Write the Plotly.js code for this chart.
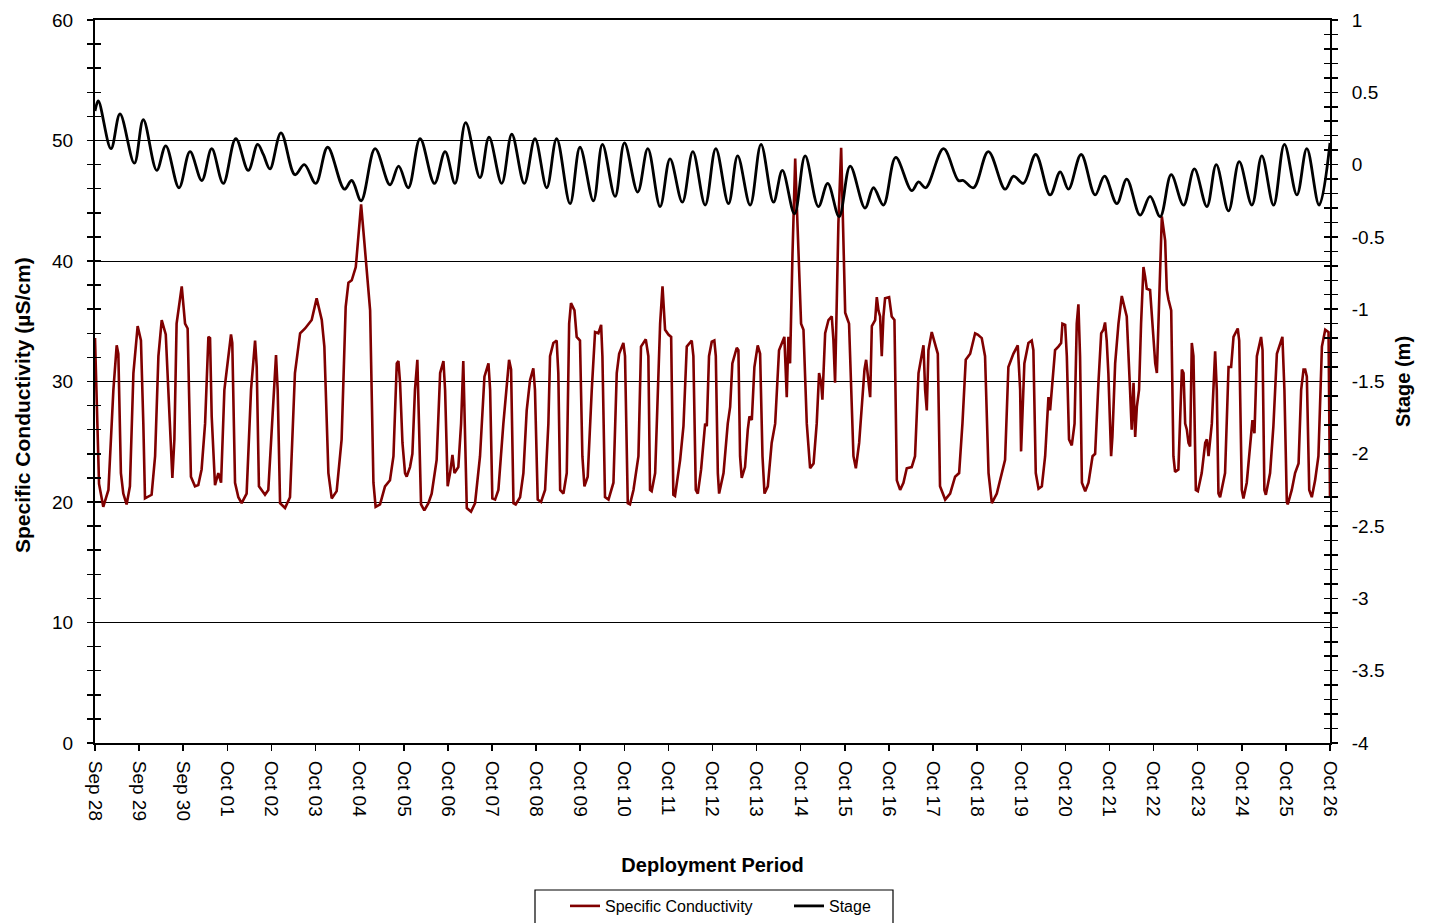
<!DOCTYPE html>
<html>
<head>
<meta charset="utf-8">
<script src="https://cdn.plot.ly/plotly-3.0.1.min.js"></script>
<style>html,body{margin:0;padding:0;background:#fff;}#chart{width:1434px;height:923px;}</style>
</head>
<body>
<div id="chart"></div>
<script>
// Hours elapsed since Sep 28 00:00 and stage (m)
const stageHours = [0,1.8,8.7,13.6,21.4,26.3,33.6,38.5,45.7,51.7,58.1,63.5,69.8,76.6,83.4,88.5,91.6,95.2,101.2,108.8,113.9,120.1,126.6,135.7,139.7,144.8,152.4,160.5,165.2,170.5,176.9,184.7,190.5,195.9,201.7,209.5,214.4,221.3,226.8,233.6,239.4,245.8,251.2,258.5,263.9,271.2,276.1,283.0,288.1,295.3,300.8,307.5,312.9,319.6,325.3,332.0,337.8,344.7,349.7,356.5,362.4,369.2,374.0,380.6,386.4,393.6,398.7,404.9,410.9,419.0,423.6,429.0,435.7,444.4,448.1,452.0,461.7,469.8,472.5,478.0,486.1,495.2,499.8,505.2,511.9,519.7,525.2,529.7,536.6,544.2,549.3,556.0,561.4,568.7,574.1,579.6,585.6,592.3,598.2,605.0,610.1,616.8,622.6,629.5,634.9,641.3,647.2,654.0,659.4,666.1,672.0];
const stageValues = [0.37,0.44,0.11,0.35,0.01,0.31,-0.04,0.13,-0.16,0.09,-0.11,0.11,-0.13,0.18,-0.04,0.14,0.07,-0.03,0.22,-0.07,0.00,-0.13,0.12,-0.17,-0.11,-0.25,0.11,-0.14,-0.01,-0.16,0.18,-0.13,0.09,-0.13,0.29,-0.09,0.19,-0.13,0.21,-0.13,0.18,-0.16,0.18,-0.27,0.12,-0.25,0.14,-0.22,0.15,-0.19,0.11,-0.29,0.04,-0.26,0.09,-0.28,0.11,-0.27,0.06,-0.28,0.14,-0.26,-0.04,-0.34,0.06,-0.29,-0.13,-0.36,-0.01,-0.30,-0.16,-0.28,0.05,-0.18,-0.12,-0.16,0.11,-0.11,-0.11,-0.16,0.09,-0.17,-0.08,-0.13,0.07,-0.21,-0.05,-0.17,0.07,-0.21,-0.08,-0.27,-0.10,-0.35,-0.22,-0.36,-0.07,-0.28,-0.03,-0.29,0.00,-0.32,0.02,-0.28,0.06,-0.28,0.14,-0.21,0.11,-0.28,0.15];

// Hours elapsed since Sep 28 00:00 and specific conductivity (uS/cm)
const condHours = [0,2.2,4.5,7.3,10.0,11.8,12.7,14.1,15.4,17.2,19.0,20.9,23.2,25.0,26.3,27.2,30.8,32.7,34.5,36.3,38.5,40.3,42.1,43.2,44.4,47.2,49.0,50.4,52.2,54.4,56.2,58.0,59.9,61.7,62.6,63.5,65.3,67.1,68.6,70.4,74.0,74.7,76.2,78.0,79.8,82.5,84.9,87.1,88.0,89.2,92.5,94.3,97.0,98.5,99.4,100.7,103.4,106.1,108.8,111.6,114.3,117.9,120.6,123.4,124.8,127.0,128.8,131.5,134.2,136.4,137.9,139.7,141.9,144.8,146.6,149.7,151.5,152.7,155.1,157.8,160.5,162.4,164.2,165.1,166.0,167.3,168.7,169.6,171.4,172.7,174.1,175.4,176.3,177.4,179.2,181.4,183.2,185.9,187.8,189.6,190.5,191.9,193.2,194.5,195.6,197.7,199.2,200.4,202.3,204.6,206.8,209.5,211.9,214.1,215.0,216.2,217.7,219.5,222.2,225.3,226.4,227.7,228.9,231.3,233.1,234.9,236.7,238.5,239.4,240.9,242.7,244.9,246.7,247.6,249.4,251.2,252.1,253.1,254.9,256.7,258.0,259.0,260.9,262.1,263.9,265.2,266.3,268.1,270.3,272.1,273.9,275.4,276.1,277.5,279.4,282.1,283.9,285.2,287.5,288.4,289.9,291.1,293.0,295.7,297.1,299.7,301.1,302.0,302.9,304.8,307.5,308.8,310.2,312.0,313.5,314.7,315.6,318.4,320.2,322.0,324.7,325.6,326.9,328.0,329.8,332.0,332.9,334.1,335.6,337.0,337.8,338.9,339.6,342.0,344.3,345.6,346.8,349.2,350.1,351.0,351.9,353.7,355.2,356.1,357.4,358.8,360.6,361.9,363.2,364.3,366.1,368.2,370.1,372.2,375.1,376.4,377.3,378.2,379.5,381.0,381.9,383.1,384.2,385.5,387.3,389.1,391.0,392.7,394.0,395.1,395.8,397.3,399.1,400.9,401.8,402.7,403.6,404.5,406.0,407.2,408.2,409.6,410.3,412.7,414.0,415.8,417.2,418.7,419.6,420.8,421.8,422.7,424.5,425.4,426.3,427.2,428.1,429.0,429.9,432.1,433.5,435.0,436.3,438.1,439.9,441.7,444.4,446.2,448.1,450.8,451.7,452.6,453.5,455.3,457.1,458.6,459.8,462.6,465.3,468.0,470.2,472.0,473.8,476.2,478.9,480.3,482.5,484.3,486.2,488.0,490.7,493.0,495.2,497.0,499.7,502.1,503.4,503.9,504.7,505.7,507.9,509.7,510.6,511.9,513.4,515.2,517.0,518.8,519.7,520.6,522.4,524.2,525.7,526.4,527.9,528.8,530.0,531.5,533.0,534.2,535.1,536.0,537.0,538.8,540.6,542.8,544.2,546.0,547.5,548.7,549.6,550.5,551.4,552.9,553.6,555.1,556.9,558.7,560.5,561.4,563.2,564.1,565.1,566.0,566.9,568.1,569.2,570.5,571.4,572.3,574.1,575.4,576.9,577.8,578.7,579.6,580.5,582.3,583.2,584.1,585.6,586.8,587.7,589.5,590.5,591.4,592.3,593.2,594.1,595.0,595.9,596.8,597.7,598.3,599.0,600.1,602.2,604.1,605.0,605.9,607.7,609.5,610.4,611.3,612.2,614.9,616.8,618.2,619.5,621.8,622.6,624.0,624.9,626.7,628.5,629.8,630.9,632.2,634.5,635.3,636.3,637.1,639.4,641.2,643.1,646.1,647.2,648.5,649.0,651.2,653.0,654.9,656.3,657.6,658.5,659.4,660.7,662.1,663.9,665.7,667.6,669.4,671.2,672.0];
const condValues = [33.6,21.5,19.6,21.0,29.3,33.0,32.3,22.4,20.7,19.8,21.3,30.7,34.6,33.4,26.5,20.3,20.6,23.8,32.1,35.1,33.9,27.9,22.0,25.2,34.8,37.9,34.8,34.4,22.1,21.3,21.4,22.7,26.5,33.7,33.6,27.1,21.4,22.4,21.6,29.3,33.9,33.2,21.6,20.4,19.9,20.7,29.3,33.4,31.2,21.3,20.6,21.0,27.9,32.2,29.3,19.9,19.5,20.4,30.7,34.0,34.4,35.1,36.9,35.1,32.9,22.4,20.3,20.9,25.2,36.2,38.2,38.4,39.5,44.7,41.5,35.9,21.6,19.6,19.8,21.3,21.8,23.8,31.5,31.7,29.9,24.9,22.4,22.1,22.9,24.0,29.3,31.8,26.5,19.8,19.3,19.9,20.7,23.5,30.7,31.7,29.3,21.3,22.4,23.9,22.4,22.9,26.5,31.7,19.5,19.2,19.9,23.8,30.4,31.5,29.3,20.3,20.2,21.0,26.5,31.8,31.0,19.9,19.8,20.4,22.4,27.6,30.1,31.1,29.3,20.2,20.0,21.0,26.5,32.1,33.2,33.4,30.7,21.0,20.7,22.4,34.8,36.5,35.9,33.7,33.4,23.8,21.3,22.1,29.3,34.1,34.0,34.7,32.1,20.4,20.2,21.6,30.7,32.3,33.2,32.1,19.9,19.8,21.0,23.8,32.9,33.5,32.1,21.0,20.9,22.4,34.8,37.9,34.3,33.9,33.7,20.6,20.5,23.5,26.3,32.9,33.4,32.1,21.0,20.7,22.7,26.5,26.3,32.1,33.3,33.4,32.1,22.4,20.7,22.4,26.5,27.9,31.5,32.8,32.6,23.8,22.0,22.9,26.0,27.1,26.8,31.2,33.0,32.3,23.8,20.7,21.3,24.9,26.5,32.6,33.7,28.7,33.7,31.5,40.4,48.5,44.5,39.0,34.8,34.3,26.5,22.8,23.2,26.5,30.7,29.9,28.5,34.0,35.1,35.4,33.4,29.9,37.6,43.1,49.4,43.1,35.7,35.1,34.8,23.8,22.8,24.9,27.6,31.0,31.8,29.9,28.7,34.6,35.1,37.0,35.9,35.4,32.1,35.4,36.9,37.0,35.4,35.1,21.8,21.0,21.6,22.8,22.9,23.8,30.7,33.0,29.3,27.6,32.6,34.1,33.2,32.3,21.3,20.2,20.7,22.1,22.4,26.5,31.8,32.3,34.0,33.9,33.6,32.1,22.4,19.9,20.7,22.1,23.5,31.2,32.3,33.0,29.3,24.2,27.9,31.5,33.2,33.4,32.6,22.4,21.1,21.3,23.8,28.7,27.6,29.3,32.6,32.9,33.2,34.8,34.7,32.1,25.2,24.7,26.5,34.8,36.4,32.1,21.6,20.9,21.6,23.8,24.0,29.9,34.0,34.3,34.9,33.4,30.7,23.8,25.4,31.5,34.8,37.1,36.1,35.4,29.3,26.0,29.9,25.4,27.9,29.3,34.8,39.5,38.7,37.7,37.6,34.8,31.5,30.7,34.8,40.4,43.7,41.7,37.6,36.8,35.9,23.8,22.5,22.7,27.9,31.0,30.7,26.5,26.0,24.9,24.6,33.2,32.1,26.5,21.0,20.9,22.4,24.9,25.2,23.8,26.5,32.5,29.3,20.7,20.4,22.4,31.2,31.2,33.7,34.4,33.4,21.0,20.3,21.6,24.3,26.8,25.7,32.1,33.7,32.6,21.0,20.6,22.4,26.3,32.3,33.7,29.3,20.0,19.8,21.0,22.4,23.2,29.3,31.0,31.0,30.4,21.0,20.4,21.8,23.8,32.9,34.3,34.1,20.4];

// Right axis tick labels
const stageTickVals = [-4,-3.5,-3,-2.5,-2,-1.5,-1,-0.5,0,0.5,1];
const stageTickText = ['-4','-3.5','-3','-2.5','-2','-1.5','-1','-0.5','0','0.5','1'];

const startDate = Date.UTC(2010, 8, 28);
function hoursToDate(h) {
  return new Date(startDate + Math.round(h * 3600000)).toISOString().slice(0, 19).replace('T', ' ');
}
const condX = condHours.map(hoursToDate);
const stageX = stageHours.map(hoursToDate);
const xStart = hoursToDate(0), xEnd = hoursToDate(672);

const FONT = 'Liberation Sans, Arial, sans-serif';

const traces = [
  {x: condX, y: condValues, type: 'scatter', mode: 'lines', name: 'Specific Conductivity',
   line: {color: '#800000', width: 2.6}, yaxis: 'y', hoverinfo: 'skip'},
  {x: stageX, y: stageValues, type: 'scatter', mode: 'lines', name: 'Stage',
   line: {color: '#000000', width: 2.8, shape: 'spline', smoothing: 1}, yaxis: 'y2', hoverinfo: 'skip'},
  {x: [xStart], y: [null], type: 'scatter', mode: 'lines', yaxis: 'y3', showlegend: false, hoverinfo: 'skip'},
  {x: [xStart], y: [null], type: 'scatter', mode: 'lines', yaxis: 'y4', showlegend: false, hoverinfo: 'skip'}
];

const layout = {
  width: 1434, height: 923,
  margin: {l: 95, r: 104, t: 20, b: 180, autoexpand: false},
  paper_bgcolor: '#fff', plot_bgcolor: '#fff',
  font: {family: FONT, color: '#000', size: 19},
  showlegend: true,
  legend: {orientation: 'h', x: (565 - 95) / 1235, xanchor: 'left', y: -(889 - 743) / 723, yanchor: 'top',
           borderwidth: 0, font: {size: 16, family: FONT}, entrywidth: 179, bgcolor: 'rgba(0,0,0,0)'},
  shapes: [
    {type: 'rect', xref: 'paper', yref: 'paper', x0: (535 - 95) / 1235, x1: (893 - 95) / 1235,
     y0: -(890 - 743) / 723, y1: -(930 - 743) / 723, line: {color: '#000', width: 1.2}, fillcolor: 'rgba(0,0,0,0)', layer: 'below'}
  ],
  annotations: [
    {text: 'Specific Conductivity (µS/cm)', xref: 'paper', yref: 'paper',
     x: (22 - 95) / 1235, y: (743 - 405) / 723, xanchor: 'center', yanchor: 'middle', textangle: -90,
     showarrow: false, font: {size: 21, family: FONT, weight: 'bold', color: '#000'}}
  ],
  xaxis: {
    type: 'date', range: [xStart, xEnd], tick0: xStart, dtick: 86400000, tickformat: '%b %d',
    tickangle: 90, ticks: 'outside', ticklen: 6, tickwidth: 1.5, tickcolor: '#000',
    showline: true, linecolor: '#000', linewidth: 2, mirror: true, showgrid: false, zeroline: false,
    tickfont: {size: 19, family: FONT}, ticklabelstandoff: 6, automargin: false,
    title: {text: 'Deployment Period', font: {size: 20, family: FONT, weight: 'bold'}, standoff: 38}
  },
  yaxis: {
    range: [0, 60], tickmode: 'linear', tick0: 0, dtick: 10,
    ticks: 'outside', ticklen: 6, tickwidth: 1.5, tickcolor: '#000',
    minor: {tickmode: 'linear', tick0: 0, dtick: 2, ticks: 'outside', ticklen: 6, tickwidth: 1.5, tickcolor: '#000', showgrid: false},
    showline: true, linecolor: '#000', linewidth: 2, showgrid: true, gridcolor: '#000', gridwidth: 1,
    zeroline: false, tickfont: {size: 19, family: FONT}, ticklabelstandoff: 10, automargin: false
  },
  yaxis2: {
    overlaying: 'y', side: 'right', range: [-4, 1], tickmode: 'array', tickvals: stageTickVals, ticktext: stageTickText,
    ticks: 'outside', ticklen: 6, tickwidth: 1.5, tickcolor: '#000',
    minor: {tickmode: 'linear', tick0: -4, dtick: 0.1, ticks: 'outside', ticklen: 6, tickwidth: 1.5, tickcolor: '#000', showgrid: false},
    showline: true, linecolor: '#000', linewidth: 2, showgrid: false, zeroline: false,
    tickfont: {size: 19, family: FONT}, ticklabelstandoff: 10, automargin: false,
    title: {text: 'Stage (m)', font: {size: 20, family: FONT, weight: 'bold'}, standoff: 12}
  },
  yaxis3: {
    overlaying: 'y', side: 'left', range: [0, 60], tickmode: 'linear', tick0: 0, dtick: 2,
    ticks: 'inside', ticklen: 6, tickwidth: 1.5, tickcolor: '#000', showticklabels: false,
    showline: false, showgrid: false, zeroline: false, automargin: false
  },
  yaxis4: {
    overlaying: 'y', side: 'right', range: [-4, 1], tickmode: 'linear', tick0: -4, dtick: 0.1,
    ticks: 'inside', ticklen: 6, tickwidth: 1.5, tickcolor: '#000', showticklabels: false,
    showline: false, showgrid: false, zeroline: false, automargin: false
  }
};

Plotly.newPlot('chart', traces, layout, {displayModeBar: false, staticPlot: true});
</script>
</body>
</html>
